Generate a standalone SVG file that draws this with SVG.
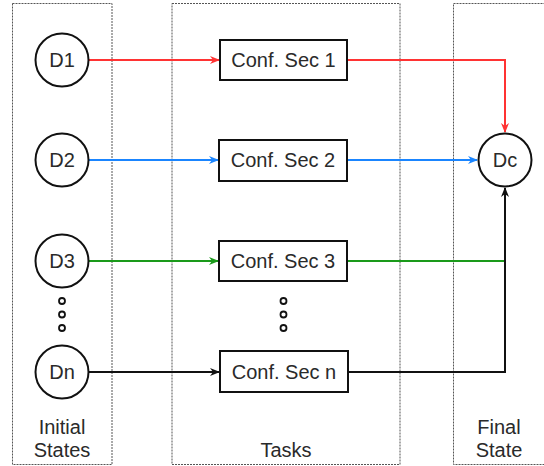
<svg xmlns="http://www.w3.org/2000/svg" width="544" height="466" viewBox="0 0 544 466">
  <style>
    .lane { fill: none; stroke: #555; stroke-width: 1; stroke-dasharray: 2 1; }
    .state { fill: #fff; stroke: #111; stroke-width: 2; }
    .task { fill: #fff; stroke: #111; stroke-width: 2; }
    .dot { fill: #fff; stroke: #111; stroke-width: 1.8; }
    text { font-family: "Liberation Sans", Arial, sans-serif; font-size: 20px; fill: #2a2a2a; text-anchor: middle; }
    .edge { fill: none; stroke-width: 2; }
  </style>
  <defs>
    <marker id="ahRed" viewBox="0 0 10 10" refX="9" refY="5" markerWidth="10" markerHeight="10" markerUnits="userSpaceOnUse" orient="auto">
      <path d="M0,1 L10,5 L0,9 L3,5 Z" fill="#ff3333"/>
    </marker>
    <marker id="ahBlue" viewBox="0 0 10 10" refX="9" refY="5" markerWidth="10" markerHeight="10" markerUnits="userSpaceOnUse" orient="auto">
      <path d="M0,1 L10,5 L0,9 L3,5 Z" fill="#1a85ff"/>
    </marker>
    <marker id="ahGreen" viewBox="0 0 10 10" refX="9" refY="5" markerWidth="10" markerHeight="10" markerUnits="userSpaceOnUse" orient="auto">
      <path d="M0,1 L10,5 L0,9 L3,5 Z" fill="#1a9a1a"/>
    </marker>
    <marker id="ahBlack" viewBox="0 0 10 10" refX="9" refY="5" markerWidth="10" markerHeight="10" markerUnits="userSpaceOnUse" orient="auto">
      <path d="M0,1 L10,5 L0,9 L3,5 Z" fill="#111"/>
    </marker>
  </defs>

  <!-- swimlanes -->
  <g id="lane-initial">
    <rect class="lane" x="12.5" y="3.5" width="99.5" height="461"/>
    <text x="62" y="434">Initial</text>
    <text x="62" y="457">States</text>
  </g>
  <g id="lane-tasks">
    <rect class="lane" x="172" y="3.5" width="228" height="461"/>
    <text x="286" y="457">Tasks</text>
  </g>
  <g id="lane-final">
    <rect class="lane" x="453.5" y="3.5" width="100" height="461"/>
    <text x="499" y="434">Final</text>
    <text x="499" y="457">State</text>
  </g>

  <!-- connectors -->
  <g id="connectors">
    <path class="edge" stroke="#ff3333" d="M89,60 H219" marker-end="url(#ahRed)"/>
    <path class="edge" stroke="#ff3333" d="M347,60 H505 V132" marker-end="url(#ahRed)"/>
    <path class="edge" stroke="#1a85ff" d="M89,160 H218" marker-end="url(#ahBlue)"/>
    <path class="edge" stroke="#1a85ff" d="M347,160 H477" marker-end="url(#ahBlue)"/>
    <path class="edge" stroke="#1a9a1a" d="M89,261 H218" marker-end="url(#ahGreen)"/>
    <path class="edge" stroke="#1a9a1a" d="M347,261 H505"/>
    <path class="edge" stroke="#111" d="M89,372 H219" marker-end="url(#ahBlack)"/>
    <path class="edge" stroke="#111" d="M348,372 H505 V188" marker-end="url(#ahBlack)"/>
  </g>

  <!-- initial states -->
  <g id="D1"><circle class="state" cx="62" cy="60" r="26.5"/><text x="62" y="67">D1</text></g>
  <g id="D2"><circle class="state" cx="62" cy="160" r="26.5"/><text x="62" y="167">D2</text></g>
  <g id="D3"><circle class="state" cx="62" cy="261" r="26.5"/><text x="62" y="268">D3</text></g>
  <g id="dots-states">
    <circle class="dot" cx="62" cy="301" r="3"/>
    <circle class="dot" cx="62" cy="314.5" r="3"/>
    <circle class="dot" cx="62" cy="328" r="3"/>
  </g>
  <g id="Dn"><circle class="state" cx="62" cy="372" r="26.5"/><text x="62" y="379">Dn</text></g>

  <!-- tasks -->
  <g id="sec1"><rect class="task" x="220" y="40" width="127" height="40"/><text x="283.5" y="67">Conf. Sec 1</text></g>
  <g id="sec2"><rect class="task" x="219" y="140" width="128" height="41"/><text x="283" y="167">Conf. Sec 2</text></g>
  <g id="sec3"><rect class="task" x="219" y="241" width="128" height="40"/><text x="283" y="268">Conf. Sec 3</text></g>
  <g id="dots-tasks">
    <circle class="dot" cx="283.5" cy="301" r="3"/>
    <circle class="dot" cx="283.5" cy="314.5" r="3"/>
    <circle class="dot" cx="283.5" cy="328" r="3"/>
  </g>
  <g id="secn"><rect class="task" x="220" y="351" width="128" height="41"/><text x="284" y="379">Conf. Sec n</text></g>

  <!-- final state -->
  <g id="Dc"><circle class="state" cx="505" cy="160" r="26.5"/><text x="505" y="167">Dc</text></g>
</svg>
